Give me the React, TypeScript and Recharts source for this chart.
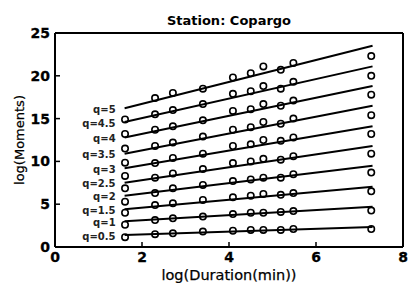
import React from 'react';
import { ScatterChart, Scatter, XAxis, YAxis, Label } from 'recharts';

// log of durations 5, 10, 15, 30, 60, 90, 120, 180, 240, 1440 min
const durations = [1.61, 2.3, 2.71, 3.4, 4.09, 4.5, 4.79, 5.19, 5.48, 7.27];

const qLabels = ['q=0.5', 'q=1', 'q=1.5', 'q=2', 'q=2.5', 'q=3', 'q=3.5', 'q=4', 'q=4.5', 'q=5'];

const q05 = [1.15, 1.5, 1.6, 1.8, 1.9, 2.0, 2.0, 2.0, 2.1, 2.1];
const q10 = [2.6, 3.15, 3.35, 3.55, 3.85, 4.0, 4.0, 4.1, 4.2, 4.25];
const q15 = [4.0, 4.9, 5.1, 5.5, 5.8, 6.0, 6.2, 6.1, 6.3, 6.5];
const q20 = [5.3, 6.3, 6.85, 7.25, 7.7, 7.9, 8.1, 8.1, 8.5, 8.7];
const q25 = [6.85, 8.1, 8.6, 9.1, 9.8, 10.0, 10.3, 10.2, 10.6, 10.9];
const q30 = [8.3, 9.8, 10.4, 10.9, 11.8, 12.0, 12.5, 12.4, 12.8, 13.2];
const q35 = [9.85, 11.8, 12.2, 12.9, 13.7, 14.0, 14.6, 14.4, 15.0, 15.4];
const q40 = [11.5, 13.7, 14.1, 14.8, 15.9, 16.1, 16.7, 16.5, 17.1, 17.8];
const q45 = [13.2, 15.5, 16.0, 16.7, 17.9, 18.2, 18.8, 18.5, 19.3, 20.0];
const q50 = [14.9, 17.4, 18.0, 18.5, 19.8, 20.3, 21.1, 20.7, 21.5, 22.3];

// fitted lines, value at start and end of the fit range
const fitX = [1.6, 7.3];
const fitStart = [1.4, 3.0, 4.4, 6.0, 7.5, 9.2, 10.9, 12.8, 14.6, 16.2];
const fitEnd = [2.35, 4.7, 7.05, 9.5, 11.8, 14.1, 16.5, 18.8, 21.1, 23.5];

const xTicks = [0, 2, 4, 6, 8];
const yTicks = [0, 5, 10, 15, 20, 25];

const moments = [q05, q10, q15, q20, q25, q30, q35, q40, q45, q50];

const pointSeries = moments.map((vals) =>
  durations.map((d, i) => ({ x: d, y: vals[i] }))
);

const fitSeries = qLabels.map((label, k) => [
  { x: fitX[0], y: fitStart[k], label },
  { x: fitX[1], y: fitEnd[k] },
]);

const Circle = (props: any) => (
  <circle cx={props.cx} cy={props.cy} r={3.2} fill="none" stroke="#000" strokeWidth={1.6} />
);

const FitLabel = (props: any) =>
  props.payload && props.payload.label ? (
    <text
      x={props.cx - 9}
      y={props.cy + 1}
      textAnchor="end"
      dominantBaseline="central"
      fontFamily="DejaVu Sans"
      fontWeight="bold"
      fontSize={10}
      fill="#222"
    >
      {props.payload.label}
    </text>
  ) : (
    <g />
  );

const AxisTick = (props: any) => {
  const { x, y, payload, orientation } = props;
  const isLeft = orientation === 'left';
  return (
    <text
      x={x}
      y={y}
      textAnchor={isLeft ? 'end' : 'middle'}
      dominantBaseline={isLeft ? 'central' : 'hanging'}
      fontFamily="DejaVu Sans"
      fontWeight="bold"
      fontSize={14}
      fill="#000"
      stroke="#000"
      strokeWidth={0.3}
    >
      {payload.value}
    </text>
  );
};

const YTitle = () => (
  <text
    x={19}
    y={140}
    transform="rotate(-90, 19, 140)"
    textAnchor="middle"
    dominantBaseline="central"
    fontFamily="DejaVu Sans"
    fontSize={13}
    fill="#000"
    stroke="#000"
    strokeWidth={0.25}
  >
    log(Moments)
  </text>
);

const App = () => {
  return (
    <div style={{ position: 'absolute', left: 0, top: 0, background: '#fff' }}>
      <ScatterChart
        width={409}
        height={283}
        margin={{ top: 32, right: 5, bottom: 0, left: 0 }}
      >
        <XAxis
          xAxisId="b"
          type="number"
          dataKey="x"
          domain={[0, 8]}
          ticks={xTicks}
          height={36}
          tickSize={-5}
          tickMargin={10}
          tick={<AxisTick />}
          axisLine={{ stroke: '#000', strokeWidth: 2 }}
          tickLine={{ stroke: '#000', strokeWidth: 1.5 }}
        >
          <Label
            value="log(Duration(min))"
            position="insideBottom"
            offset={3}
            style={{ fontFamily: 'DejaVu Sans', fontSize: 14.5, fill: '#000', stroke: '#000', strokeWidth: 0.25 }}
          />
        </XAxis>
        <XAxis
          xAxisId="t"
          orientation="top"
          type="number"
          dataKey="x"
          domain={[0, 8]}
          ticks={xTicks}
          height={1}
          tickSize={-5}
          tick={false}
          axisLine={{ stroke: '#000', strokeWidth: 2 }}
          tickLine={{ stroke: '#000', strokeWidth: 1.5 }}
        >
          <Label
            value="Station: Copargo"
            position="top"
            offset={7}
            style={{ fontFamily: 'DejaVu Sans', fontWeight: 'bold', fontSize: 13, fill: '#000' }}
          />
        </XAxis>
        <YAxis
          yAxisId="l"
          type="number"
          dataKey="y"
          domain={[0, 25]}
          ticks={yTicks}
          width={55}
          tickSize={-5}
          tickMargin={10}
          tick={<AxisTick />}
          axisLine={{ stroke: '#000', strokeWidth: 2 }}
          tickLine={{ stroke: '#000', strokeWidth: 1.5 }}
        >
          <Label content={<YTitle />} />
        </YAxis>
        <YAxis
          yAxisId="r"
          orientation="right"
          type="number"
          dataKey="y"
          domain={[0, 25]}
          ticks={yTicks}
          width={1}
          tickSize={-5}
          tick={false}
          axisLine={{ stroke: '#000', strokeWidth: 2 }}
          tickLine={{ stroke: '#000', strokeWidth: 1.5 }}
        />
        {fitSeries.map((data, k) => (
          <Scatter
            key={'fit' + k}
            xAxisId="t"
            yAxisId="r"
            data={data}
            line={{ stroke: '#000', strokeWidth: 2 }}
            shape={FitLabel}
            isAnimationActive={false}
          />
        ))}
        {pointSeries.map((data, k) => (
          <Scatter
            key={'pts' + k}
            xAxisId="b"
            yAxisId="l"
            data={data}
            shape={Circle}
            isAnimationActive={false}
          />
        ))}
      </ScatterChart>
    </div>
  );
};

export default App;
